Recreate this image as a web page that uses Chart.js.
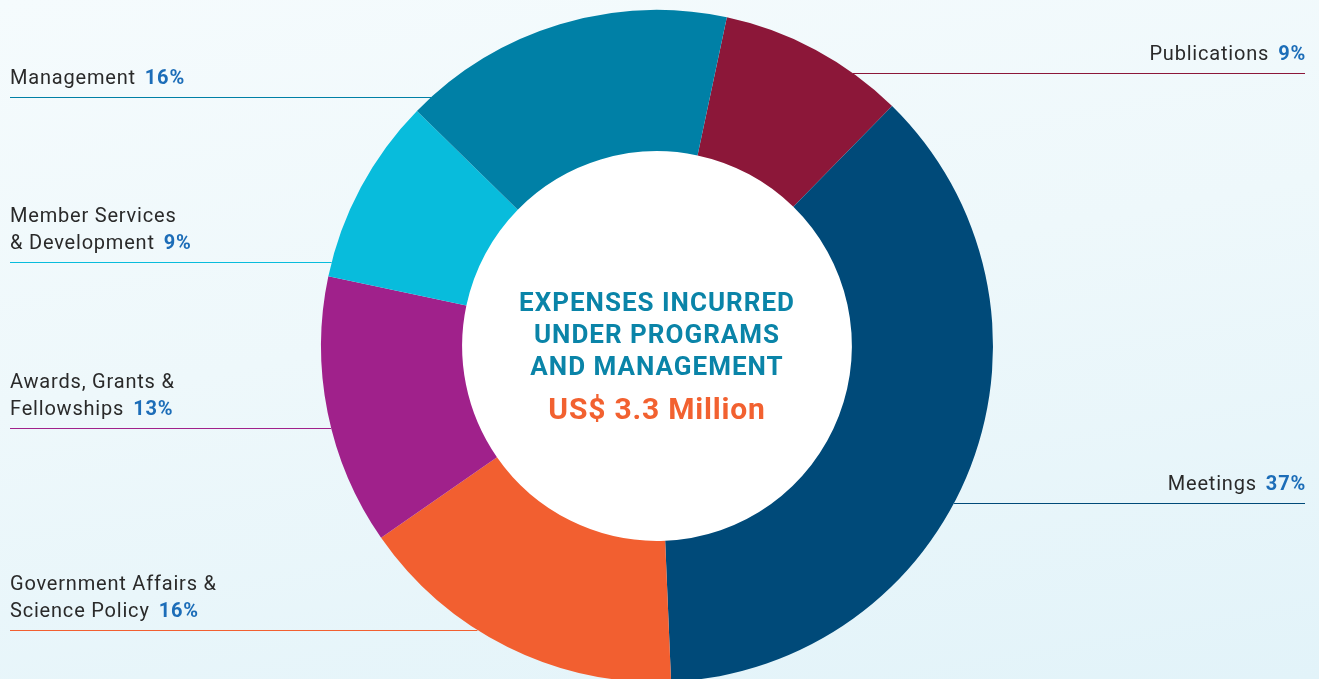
<!DOCTYPE html>
<html>
<head>
<meta charset="utf-8">
<script src="https://cdn.jsdelivr.net/npm/chart.js@4.4.1/dist/chart.umd.min.js"></script>
<style>
  html, body { margin: 0; padding: 0; width: 1319px; height: 679px; overflow: hidden; }
  body { background: linear-gradient(170deg, #f5fbfd 0%, #eef8fb 45%, #e2f3f9 100%); }
  #wrap { position: absolute; left: 0; top: 0; width: 1319px; height: 682px; }
</style>
</head>
<body>
<div id="wrap"><canvas id="chart"></canvas></div>
<script>
// ── Data ───────────────────────────────────────────────
const categories = ['Publications', 'Meetings', 'Government Affairs & Science Policy',
                    'Awards, Grants & Fellowships', 'Member Services & Development', 'Management'];
const shares     = [9, 37, 16, 13, 9, 16];
const colors     = ['#8c1739', '#004a79', '#f25f30', '#a0218b', '#08bcdc', '#0080a6'];
const labelLines = [['Publications'], ['Meetings'], ['Government Affairs &', 'Science Policy'],
                    ['Awards, Grants &', 'Fellowships'], ['Member Services', '& Development'], ['Management']];
const centerTitle = ['EXPENSES INCURRED', 'UNDER PROGRAMS', 'AND MANAGEMENT'];
const centerValue = 'US$ 3.3 Million';

// ── Label layout (side, leader line y) ─────────────────
const labelLayout = [
  { side: 'right', lineY: 73 },
  { side: 'right', lineY: 503 },
  { side: 'left',  lineY: 630 },
  { side: 'left',  lineY: 428 },
  { side: 'left',  lineY: 262 },
  { side: 'left',  lineY: 97 },
];

const FONT = 'Roboto, "Open Sans", sans-serif';

const calloutPlugin = {
  id: 'callouts',
  beforeDatasetsDraw(chart) {
    const arc = chart.getDatasetMeta(0).data[0];
    const { ctx } = chart;
    ctx.save();
    ctx.fillStyle = '#ffffff';
    ctx.beginPath();
    ctx.arc(arc.x, arc.y, arc.innerRadius + 1, 0, Math.PI * 2);
    ctx.fill();
    ctx.restore();
  },
  afterDraw(chart) {
    const { ctx } = chart;
    const arc = chart.getDatasetMeta(0).data[0];
    const cx = arc.x, cy = arc.y, R = arc.outerRadius;

    ctx.save();
    labelLayout.forEach((lay, i) => {
      const dy = lay.lineY - cy;
      const dx = Math.sqrt(Math.max(0, R * R - dy * dy));
      // leader line
      ctx.strokeStyle = colors[i];
      ctx.lineWidth = 1.2;
      ctx.beginPath();
      if (lay.side === 'left') { ctx.moveTo(10, lay.lineY + 0.5); ctx.lineTo(cx - dx, lay.lineY + 0.5); }
      else { ctx.moveTo(cx + dx, lay.lineY + 0.5); ctx.lineTo(1305, lay.lineY + 0.5); }
      ctx.stroke();

      // label text
      const lines = labelLines[i];
      const pct = shares[i] + '%';
      ctx.textBaseline = 'alphabetic';
      ctx.letterSpacing = '0.8px';
      const lastBase = lay.lineY - 13;
      const lineH = 27;
      lines.forEach((t, j) => {
        const base = lastBase - (lines.length - 1 - j) * lineH;
        const isLast = j === lines.length - 1;
        ctx.font = '400 20px ' + FONT;
        const tw = ctx.measureText(t).width;
        ctx.font = '700 20px ' + FONT;
        const pw = ctx.measureText(pct).width;
        const gap = 9;
        let x0;
        if (lay.side === 'left') x0 = 10;
        else x0 = 1306 - (isLast ? tw + gap + pw : tw);
        ctx.textAlign = 'left';
        ctx.font = '400 20px ' + FONT;
        ctx.fillStyle = '#2a2a2a';
        ctx.fillText(t, x0, base);
        if (isLast) {
          ctx.font = '700 20px ' + FONT;
          ctx.fillStyle = '#1c6db8';
          ctx.fillText(pct, x0 + tw + gap, base);
        }
      });
    });

    // center text
    ctx.textAlign = 'center';
    ctx.textBaseline = 'middle';
    ctx.fillStyle = '#0a84a8';
    ctx.letterSpacing = '1px';
    ctx.font = '700 26px ' + FONT;
    centerTitle.forEach((t, j) => ctx.fillText(t, cx, cy - 42 + j * 32));
    ctx.fillStyle = '#f26130';
    ctx.letterSpacing = '0.8px';
    ctx.font = '700 30px ' + FONT;
    ctx.fillText(centerValue, cx, cy + 65);
    ctx.restore();
  },
};

new Chart(document.getElementById('chart'), {
  type: 'doughnut',
  data: {
    labels: categories,
    datasets: [{
      data: shares,
      backgroundColor: colors,
      borderWidth: 0,
      hoverOffset: 0,
    }],
  },
  options: {
    responsive: true,
    maintainAspectRatio: false,
    animation: false,
    rotation: 12,
    cutout: '58%',
    layout: { padding: { top: 10, right: 5 } },
    plugins: { legend: { display: false }, tooltip: { enabled: false } },
  },
  plugins: [calloutPlugin],
});
</script>
</body>
</html>
